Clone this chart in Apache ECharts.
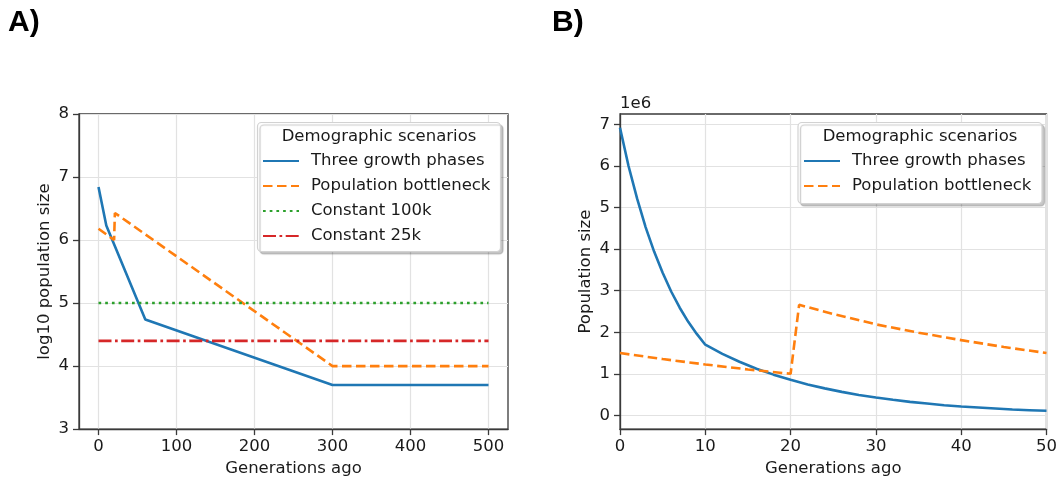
<!DOCTYPE html>
<html>
<head>
<meta charset="utf-8">
<script src="https://cdn.jsdelivr.net/npm/echarts@6/dist/echarts.min.js"></script>
<style>
  html, body { margin: 0; padding: 0; background: #fff; }
  #chart { width: 1060px; height: 482px; }
</style>
</head>
<body>
<div id="chart"></div>
<script>
// panel A: log10 population size vs generations ago
const growthGensA = [0, 10, 60, 300, 500]
const growthLogA = [6.84, 6.23, 4.74, 3.70, 3.70]
const bottleGensA = [0, 20, 21, 300, 500]
const bottleLogA = [6.18, 6.00, 6.43, 4.00, 4.00]
const constGensA = [0, 500]
const const100kLogA = [5.0, 5.0]
const const25kLogA = [4.4, 4.4]
const xTicksA = [0, 100, 200, 300, 400, 500]

// panel B: population size over the last 50 generations
const growthGensB = [0, 1, 2, 3, 4, 5, 6, 7, 8, 9, 10, 12, 14, 16, 18, 20, 22, 24, 26, 28, 30,
  32, 34, 36, 38, 40, 42, 44, 46, 48, 50]
const growthSizeB = [6.92e6, 6.0e6, 5.22e6, 4.53e6, 3.94e6, 3.43e6, 2.98e6, 2.59e6, 2.25e6, 1.96e6, 1.70e6,
  1.48e6, 1.29e6, 1.12e6, 0.98e6, 0.855e6, 0.745e6, 0.65e6, 0.565e6, 0.49e6, 0.43e6,
  0.375e6, 0.325e6, 0.285e6, 0.245e6, 0.215e6, 0.19e6, 0.165e6, 0.14e6, 0.125e6, 0.11e6]
const bottleGensB = [0, 5, 10, 15, 20, 21, 25, 30, 35, 40, 45, 50]
const bottleSizeB = [1.50e6, 1.355e6, 1.225e6, 1.105e6, 1.0e6, 2.66e6, 2.44e6, 2.19e6, 1.99e6, 1.81e6, 1.645e6, 1.50e6]
const yTicksB = [0, 1e6, 2e6, 3e6, 4e6, 5e6, 6e6, 7e6]

const names = ['Three growth phases', 'Population bottleneck', 'Constant 100k', 'Constant 25k']
const colors = ['#1f77b4', '#ff7f0e', '#2ca02c', '#d62728']
const dashes = ['solid', [9.5, 4.5], [2.7, 4], [13, 3.5, 2.7, 3.5]]

const FONT = 'DejaVu Sans'
const TXT = '#1a1a1a'
const SPINE = '#3a3a3a'
const GRIDC = '#e2e2e2'

const zip = (xs, ys) => xs.map((x, i) => [x, ys[i]])

function line (idx, k, data) {
  return {
    type: 'line',
    name: names[k],
    xAxisIndex: idx,
    yAxisIndex: idx,
    data: data,
    symbol: 'none',
    color: colors[k],
    lineStyle: { color: colors[k], width: 2.6, type: dashes[k], cap: 'butt' },
    animation: false
  }
}

function axis (extra) {
  const base = {
    type: 'value',
    axisLine: { show: true, onZero: false, lineStyle: { color: SPINE, width: 1.3 } },
    axisTick: { show: true, length: 6, lineStyle: { color: SPINE, width: 1.3 } },
    axisLabel: { fontFamily: FONT, fontSize: 16.5, color: TXT },
    splitLine: { show: true, lineStyle: { color: GRIDC, width: 1.2 } },
    nameLocation: 'middle',
    nameTextStyle: { fontFamily: FONT, fontSize: 16.5, color: TXT }
  }
  const out = Object.assign({}, base, extra)
  out.axisTick = Object.assign({}, base.axisTick, extra.axisTick || {})
  out.axisLabel = Object.assign({}, base.axisLabel, extra.axisLabel || {})
  return out
}

function legendBox (x, y, w, h, titleX) {
  return [
    {
      type: 'rect', z: 100,
      shape: { x: x, y: y, width: w, height: h, r: 4 },
      style: { fill: '#fff', stroke: '#d2d2d2', lineWidth: 1.2,
        shadowColor: 'rgba(0,0,0,0.22)', shadowOffsetX: 2.5, shadowOffsetY: 2.5, shadowBlur: 1 }
    },
    {
      type: 'text', z: 101,
      style: { text: 'Demographic scenarios', x: titleX, y: y + 14, align: 'center', verticalAlign: 'middle',
        fontFamily: FONT, fontSize: 16.5, fill: TXT }
    }
  ]
}

function legend (left, names) {
  return {
    data: names,
    orient: 'vertical',
    left: left,
    top: 152,
    padding: 0,
    z: 110,
    itemWidth: 36,
    itemHeight: 14,
    itemGap: 7,
    itemStyle: { opacity: 0 },
    textStyle: { fontFamily: FONT, fontSize: 16.5, color: TXT, lineHeight: 18, padding: [0, 0, 0, 7] },
    selectedMode: false
  }
}

const chart = echarts.init(document.getElementById('chart'), null, { renderer: 'canvas' })

chart.setOption({
  backgroundColor: '#fff',
  animation: false,
  grid: [
    { left: 79, top: 114, width: 429, height: 319, show: true, borderColor: SPINE, borderWidth: 1.3, backgroundColor: 'transparent' },
    { left: 620, top: 114, width: 429, height: 319, show: true, borderColor: SPINE, borderWidth: 1.3, backgroundColor: 'transparent' }
  ],
  xAxis: [
    axis({ gridIndex: 0, min: -25, max: 525, name: 'Generations ago', nameGap: 29,
      axisTick: { customValues: xTicksA }, axisLabel: { customValues: xTicksA, margin: 9 } }),
    axis({ gridIndex: 1, min: 0, max: 50, interval: 10, name: 'Generations ago', nameGap: 29,
      axisLabel: { margin: 9 } })
  ],
  yAxis: [
    axis({ gridIndex: 0, min: 3, max: 8, interval: 1, name: 'log10 population size', nameGap: 26,
      axisLabel: { margin: 10 } }),
    axis({ gridIndex: 1, min: -330000, max: 7250000, name: 'Population size', nameGap: 26,
      axisTick: { customValues: yTicksB },
      axisLabel: { customValues: yTicksB, margin: 10, formatter: v => String(Math.round(v / 1e6)) } })
  ],
  legend: [
    legend(262, names),
    legend(803, names.slice(0, 2))
  ],
  graphic: [
    { type: 'text', style: { text: 'A)', x: 8, y: 23, verticalAlign: 'middle', fontFamily: 'Liberation Sans', fontWeight: 'bold', fontSize: 30, fill: '#000' } },
    { type: 'text', style: { text: 'B)', x: 552, y: 23, verticalAlign: 'middle', fontFamily: 'Liberation Sans', fontWeight: 'bold', fontSize: 30, fill: '#000' } },
    { type: 'text', style: { text: '1e6', x: 620, y: 104, verticalAlign: 'middle', fontFamily: FONT, fontSize: 16.5, fill: TXT } }
  ].concat(legendBox(257.5, 122.5, 243, 129, 379), legendBox(798, 122.5, 244, 81, 920)),
  series: [
    line(0, 0, zip(growthGensA, growthLogA)),
    line(0, 1, zip(bottleGensA, bottleLogA)),
    line(0, 2, zip(constGensA, const100kLogA)),
    line(0, 3, zip(constGensA, const25kLogA)),
    line(1, 0, zip(growthGensB, growthSizeB)),
    line(1, 1, zip(bottleGensB, bottleSizeB))
  ]
})
</script>
</body>
</html>
